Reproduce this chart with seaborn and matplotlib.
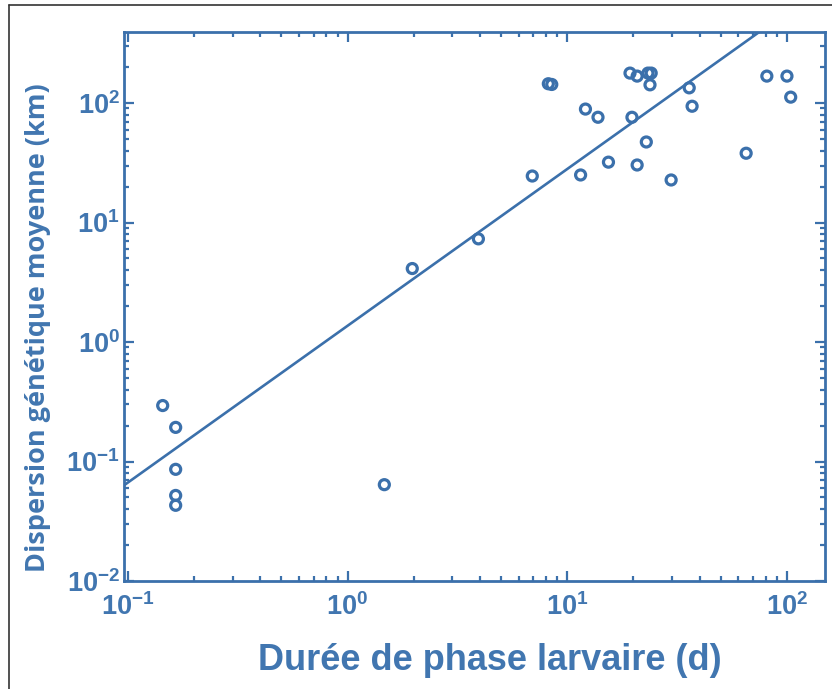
import numpy as np
import pandas as pd
import seaborn as sns
import matplotlib
matplotlib.use("Agg")
import matplotlib.pyplot as plt
from matplotlib.lines import Line2D
from matplotlib.ticker import LogLocator, FixedLocator, FixedFormatter, NullFormatter

# ---- data ----
larval_duration = [0.144, 0.165, 0.165, 0.165, 0.165, 1.47, 1.97, 3.94, 6.93,
                   8.2, 8.5, 11.5, 12.1, 13.8, 15.4, 19.3, 20.8, 19.7, 20.8,
                   22.9, 23.3, 24.1, 23.8, 29.7, 35.9, 37.0, 65.2, 81.0, 100.0, 104.0]
genetic_dispersal = [0.294, 0.193, 0.086, 0.052, 0.043, 0.064, 4.12, 7.3, 24.5,
                     145, 143, 25, 89, 76, 32, 178, 168, 76, 30.3,
                     47.2, 178, 178, 142, 22.7, 134, 94, 38, 168, 168, 112]
fit_log_intercept = 0.136   # log10(y) at x = 1
fit_slope = 1.312
x_ticks = [0.1, 1, 10, 100]
x_tick_labels = ["$10^{-1}$", "$10^{0}$", "$10^{1}$", "$10^{2}$"]
y_ticks = [0.01, 0.1, 1, 10, 100]
y_tick_labels = ["$10^{-2}$", "$10^{-1}$", "$10^{0}$", "$10^{1}$", "$10^{2}$"]

BLUE = "#3b70ab"
TEXT = "#4176b0"

sns.set_theme(style="white")
plt.rcParams["font.family"] = ["Liberation Sans Narrow", "Liberation Sans", "DejaVu Sans"]
plt.rcParams["mathtext.default"] = "regular"

fig = plt.figure(figsize=(8.32, 6.89), dpi=100)
ax = fig.add_axes([124 / 832, 1 - 581 / 689, (825 - 124) / 832, (581 - 32) / 689])

df = pd.DataFrame({"x": larval_duration, "y": genetic_dispersal})
sns.scatterplot(data=df, x="x", y="y", ax=ax, marker="o", s=52,
                facecolor="none", edgecolor=BLUE, linewidth=2.3, zorder=3)

ax.set_xscale("log")
ax.set_yscale("log")
xmin, xmax = 0.096, 149
ymin, ymax = 0.01, 393
xl = np.logspace(np.log10(xmin), np.log10(xmax), 50)
line_df = pd.DataFrame({"x": xl, "y": 10 ** (fit_log_intercept + fit_slope * np.log10(xl))})
sns.lineplot(data=line_df, x="x", y="y", ax=ax, color=BLUE, linewidth=1.9, zorder=2)
ax.set_xlim(xmin, xmax)
ax.set_ylim(ymin, ymax)

for sp in ax.spines.values():
    sp.set_color(BLUE)
    sp.set_linewidth(2.0)

ax.xaxis.set_major_locator(FixedLocator(x_ticks))
ax.xaxis.set_major_formatter(FixedFormatter(x_tick_labels))
ax.yaxis.set_major_locator(FixedLocator(y_ticks))
ax.yaxis.set_major_formatter(FixedFormatter(y_tick_labels))
ax.xaxis.set_minor_locator(LogLocator(base=10, subs=np.arange(2, 10)))
ax.yaxis.set_minor_locator(LogLocator(base=10, subs=np.arange(2, 10)))
ax.xaxis.set_minor_formatter(NullFormatter())
ax.yaxis.set_minor_formatter(NullFormatter())
ax.tick_params(which="both", direction="in", top=True, right=True, bottom=True, left=True,
               color=BLUE, width=1.6)
ax.tick_params(which="major", length=7)
ax.tick_params(which="minor", length=3.5)
ax.tick_params(axis="x", which="major", labelsize=19.5, labelcolor=TEXT, pad=9)
ax.tick_params(axis="y", which="major", labelsize=19.5, labelcolor=TEXT, pad=3)
for lab in ax.get_xticklabels() + ax.get_yticklabels():
    lab.set_fontweight("bold")

ax.set_xlabel("")
ax.set_ylabel("")
fig.text(490 / 832, 1 - 660 / 689, "Durée de phase larvaire (d)", ha="center", va="center",
         fontsize=26, fontweight="bold", color=TEXT)
fig.text(38 / 832, 1 - 328 / 689, "Dispersion génétique moyenne (km)", ha="center", va="center",
         rotation=90, fontsize=19.5, fontweight="bold", color=TEXT,
         family=["Open Sans", "DejaVu Sans"])

# outer frame (left and top edges visible)
fig.add_artist(Line2D([9 / 832, 9 / 832], [0, 1 - 5 / 689], color="#333333", linewidth=1.2))
fig.add_artist(Line2D([9 / 832, 1], [1 - 5 / 689, 1 - 5 / 689], color="#333333", linewidth=1.2))

fig.savefig("out.png", dpi=100)
